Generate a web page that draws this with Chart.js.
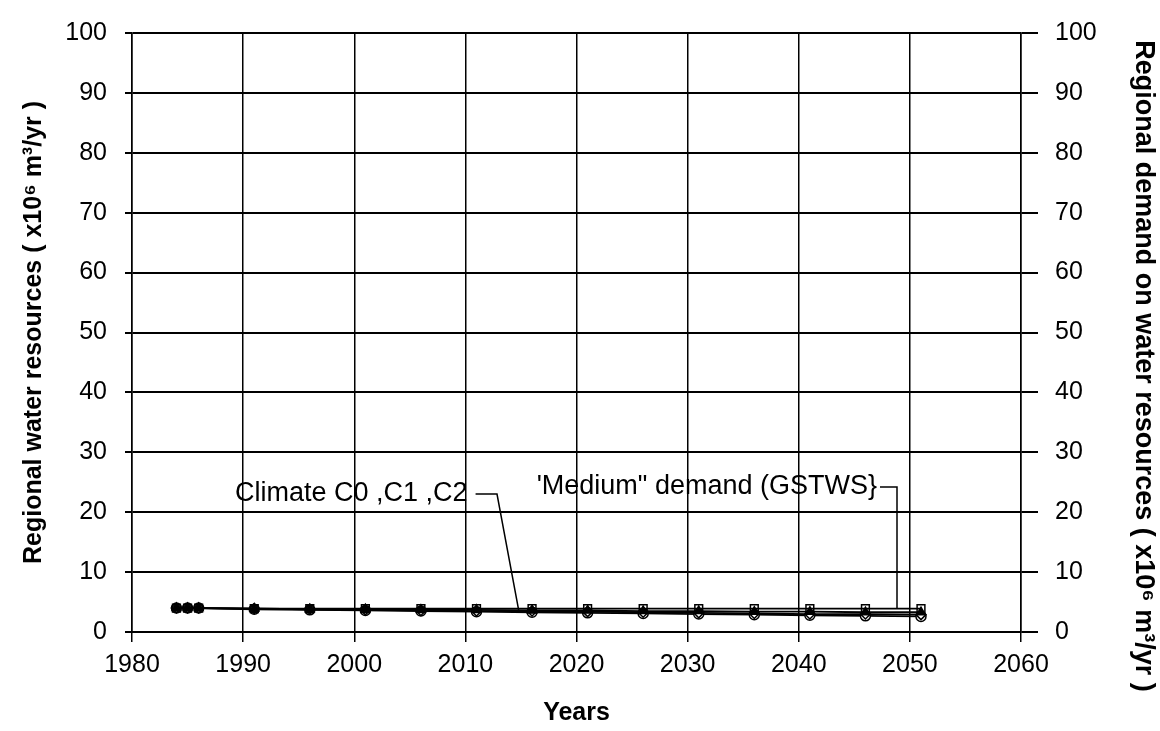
<!DOCTYPE html>
<html>
<head>
<meta charset="utf-8">
<script src="https://cdn.jsdelivr.net/npm/chart.js@4/dist/chart.umd.min.js"></script>
<style>
html,body{margin:0;padding:0;background:#fff;}
#wrap{width:1160px;height:731px;}
</style>
</head>
<body>
<div id="wrap"><canvas id="c" width="1160" height="731"></canvas></div>
<script>
// ---- data ----
const years   = [1984,1985,1986,1991,1996,2001,2006,2011,2016,2021,2026,2031,2036,2041,2046,2051];
const demandMedium = [4.0,4.0,4.0,3.9,3.9,3.9,3.9,3.9,3.9,3.9,3.9,3.9,3.9,3.9,3.9,3.9];
const climateC0 = [4.0,4.0,4.0,3.9,3.8,3.8,3.7,3.7,3.6,3.6,3.5,3.5,3.4,3.4,3.3,3.3];
const climateC1 = [4.0,4.0,4.0,3.9,3.8,3.7,3.6,3.5,3.5,3.4,3.3,3.2,3.1,3.0,3.0,2.9];
const climateC2 = [4.0,4.0,4.0,3.8,3.7,3.6,3.5,3.4,3.3,3.2,3.1,3.0,2.9,2.8,2.7,2.6];
const xTicks = [1980,1990,2000,2010,2020,2030,2040,2050,2060];
const yTicks = [0,10,20,30,40,50,60,70,80,90,100];
const leftTitle  = 'Regional water resources ( x10\u2076 m\u00b3/yr )';
const rightTitle = 'Regional demand on water resources ( x10\u2076 m\u00b3/yr )';
const xTitle = 'Years';
const climateLabel = 'Climate C0 ,C1 ,C2';
const demandLabel  = '\'Medium" demand (GSTWS}';

const FONT = '"Liberation Sans", Arial, Helvetica, sans-serif';

function pts(arr){ return years.map((y,i)=>({x:y,y:arr[i]})); }

const annot = {
  id:'annot',
  afterDatasetsDraw(chart){
    const ctx = chart.ctx, xs = chart.scales.x, ys = chart.scales.y;
    ctx.save();
    ctx.fillStyle = '#000';
    ctx.strokeStyle = '#000';
    ctx.lineWidth = 1.5;
    ctx.font = '27px ' + FONT;
    ctx.textBaseline = 'middle';
    ctx.textAlign = 'left';
    // climate label
    const cy = 494;
    ctx.fillText(climateLabel, 235, cy);
    const cw = ctx.measureText(climateLabel).width;
    ctx.beginPath();
    ctx.moveTo(235 + cw + 8, cy);
    ctx.lineTo(497, cy);
    ctx.lineTo(xs.getPixelForValue(2014.8), ys.getPixelForValue(3.6));
    ctx.stroke();
    // demand label
    const dy = 487;
    const dw = ctx.measureText(demandLabel).width;
    const dx = 877 - dw;
    ctx.fillText(demandLabel, dx, dy);
    ctx.beginPath();
    ctx.moveTo(880, dy);
    ctx.lineTo(897, dy);
    ctx.lineTo(897, ys.getPixelForValue(3.9));
    ctx.stroke();
    ctx.restore();
  },
  afterDraw(chart){
    const ctx = chart.ctx;
    ctx.save();
    ctx.fillStyle = '#000';
    ctx.font = 'bold 27px ' + FONT;
    ctx.textAlign = 'center';
    ctx.textBaseline = 'middle';
    ctx.translate(1143, 366);
    ctx.rotate(Math.PI/2);
    ctx.fillText(rightTitle, 0, 0);
    ctx.restore();
  }
};

const ds = (label, data, style, fill, axis, r) => ({
  label, data: pts(data), yAxisID: axis,
  borderColor:'#000', borderWidth:1.8,
  pointStyle: style, pointRadius:r, pointBorderWidth:1.5,
  pointBorderColor:'#000', pointBackgroundColor: fill,
  tension:0, fill:false
});

new Chart(document.getElementById('c'), {
  type:'line',
  data:{
    datasets:[
      ds('"Medium" demand (GSTWS)', demandMedium, 'rect', 'rgba(255,255,255,0)', 'y2', 5.5),
      ds('Climate C0', climateC0, 'triangle', '#000', 'y', 5),
      ds('Climate C1', climateC1, 'rectRot', '#fff', 'y', 5),
      ds('Climate C2', climateC2, 'circle', '#fff', 'y', 5)
    ]
  },
  options:{
    responsive:false,
    animation:false,
    layout:{padding:{top:32,left:0,right:0,bottom:0}},
    plugins:{legend:{display:false},tooltip:{enabled:false}},
    scales:{
      x:{
        type:'linear', min:1980, max:2060,
        afterBuildTicks(s){ s.ticks = xTicks.map(v=>({value:v})); },
        afterFit(s){ s.height = 99; },
        ticks:{color:'#000', font:{family:FONT,size:25}, padding:8, maxRotation:0, callback:v=>String(v)},
        grid:{color:'#000', lineWidth:1.5, tickLength:10, drawTicks:true},
        border:{color:'#000', width:2},
        title:{display:true, text:xTitle, color:'#000', font:{family:FONT,size:25,weight:'bold'}, padding:{top:0,bottom:3}}
      },
      y:{
        position:'left', min:0, max:100,
        afterBuildTicks(s){ s.ticks = yTicks.map(v=>({value:v})); },
        afterFit(s){ s.width = 132; },
        ticks:{color:'#000', font:{family:FONT,size:25}, padding:18},
        grid:{color:'#000', lineWidth:2, tickLength:7},
        border:{color:'#000', width:1.5},
        title:{display:true, text:leftTitle, color:'#000', font:{family:FONT,size:25,weight:'bold'}, padding:{top:19,bottom:0}}
      },
      y2:{
        position:'right', min:0, max:100,
        afterBuildTicks(s){ s.ticks = yTicks.map(v=>({value:v})); },
        afterFit(s){ s.width = 139; },
        ticks:{color:'#000', font:{family:FONT,size:25}, padding:17},
        grid:{color:'#000', lineWidth:2, tickLength:17, drawOnChartArea:false},
        border:{color:'#000', width:1.5}
      }
    }
  },
  plugins:[annot]
});
</script>
</body>
</html>
